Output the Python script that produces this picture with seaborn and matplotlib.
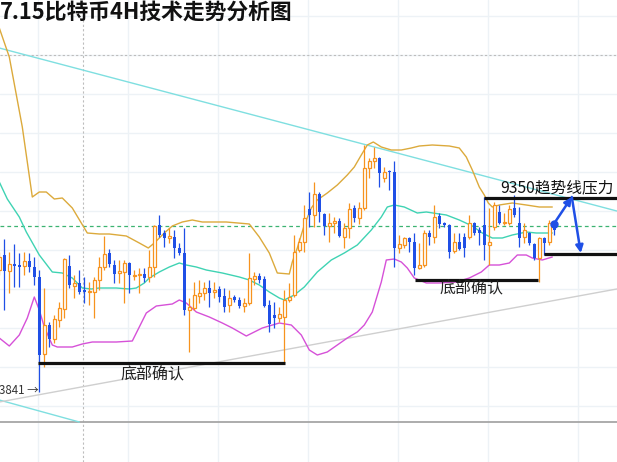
import numpy as np
import pandas as pd
import matplotlib
matplotlib.use("Agg")
import matplotlib.pyplot as plt
import seaborn as sns

# --- candle data (4H bars) ---
opens = [9000, 9075, 8995, 9030, 9025, 9020, 9045, 9015, 8965, 8580,
         8725, 8655, 8750, 8805, 9020, 8920, 8935, 8900, 8890, 8890,
         8950, 9015, 9085, 9025, 8985, 8990, 9035, 8970, 8975, 8980,
         8965, 9015, 9225, 9185, 9160, 9165, 9110, 9085, 8800, 8810,
         8870, 8885, 8910, 8890, 8905, 8870, 8825, 8865, 8850, 8820,
         8835, 8955, 8970, 8955, 8825, 8775, 8760, 8765, 8850, 8875,
         9100, 9140, 9305, 9275, 9380, 9280, 9220, 9235, 9245, 9165,
         9210, 9310, 9260, 9310, 9510, 9545, 9560, 9460, 9495, 9490,
         9110, 9125, 9160, 9140, 9010, 9025, 9185, 9165, 9270, 9235,
         9225, 9095, 9140, 9165, 9165, 9235, 9200, 9225, 9125, 9215,
         9290, 9235, 9235, 9310, 9235, 9165, 9185, 9130, 9060, 9160,
         9140, 9215]
highs = [9090, 9155, 9090, 9130, 9085, 9090, 9085, 9065, 9000, 8910,
         8740, 8775, 8840, 9060, 9075, 8975, 9000, 8965, 8940, 8965,
         9065, 9170, 9105, 9050, 9050, 9050, 9040, 9000, 9010, 9010,
         9100, 9225, 9275, 9200, 9210, 9200, 9135, 9210, 8860, 8940,
         8950, 8940, 8950, 8940, 8920, 8910, 8900, 8875, 8865, 8860,
         9085, 8990, 8985, 8970, 8850, 8840, 8815, 8900, 8935, 9175,
         9160, 9325, 9390, 9440, 9390, 9285, 9285, 9265, 9260, 9235,
         9335, 9325, 9340, 9625, 9560, 9615, 9565, 9515, 9500, 9545,
         9175, 9165, 9165, 9185, 9135, 9200, 9200, 9325, 9285, 9240,
         9230, 9185, 9185, 9185, 9275, 9240, 9215, 9365, 9310, 9340,
         9325, 9285, 9325, 9375, 9315, 9235, 9190, 9135, 9165, 9165,
         9250, 9235]
lows = [8975, 8800, 8885, 8915, 8915, 8975, 8990, 8925, 8390, 8515,
        8615, 8635, 8715, 8760, 8910, 8860, 8880, 8835, 8825, 8760,
        8900, 9000, 9015, 8935, 8935, 8835, 8885, 8950, 8885, 8940,
        8940, 8965, 9165, 9115, 9135, 9060, 9075, 8775, 8590, 8800,
        8835, 8850, 8815, 8860, 8840, 8790, 8790, 8840, 8810, 8790,
        8825, 8925, 8935, 8815, 8690, 8710, 8740, 8535, 8840, 8865,
        9090, 9090, 9215, 9215, 9240, 9175, 9140, 9185, 9165, 9110,
        9160, 9240, 9230, 9300, 9460, 9510, 9415, 9440, 9400, 9015,
        9085, 9110, 9090, 8975, 9005, 9015, 9125, 9135, 9210, 9215,
        9060, 9085, 9100, 9065, 9155, 9175, 9125, 9050, 9025, 9200,
        9230, 9225, 9225, 9265, 9115, 9135, 9125, 9050, 8940, 9075,
        9125, 9175]
closes = [9065, 8995, 9030, 9020, 9015, 9045, 9015, 8965, 8575, 8725,
          8655, 8755, 8810, 9055, 8925, 8935, 8890, 8890, 8895, 8950,
          9015, 9080, 9030, 8980, 8995, 9035, 8975, 8975, 8980, 8960,
          9015, 9220, 9175, 9160, 9170, 9110, 9085, 8800, 8815, 8875,
          8885, 8910, 8885, 8900, 8865, 8815, 8860, 8850, 8820, 8835,
          8960, 8970, 8950, 8820, 8730, 8760, 8780, 8850, 8865, 9090,
          9140, 9260, 9275, 9380, 9290, 9220, 9235, 9245, 9170, 9210,
          9305, 9260, 9310, 9510, 9545, 9560, 9485, 9490, 9490, 9110,
          9130, 9160, 9140, 9010, 9025, 9185, 9165, 9265, 9230, 9225,
          9090, 9140, 9105, 9110, 9235, 9185, 9185, 9125, 9140, 9325,
          9235, 9240, 9305, 9275, 9160, 9200, 9135, 9060, 9160, 9135,
          9235, 9200]

# --- bollinger bands, sampled along the curves (bar index, price) ---
upper_x = [0, 2, 4.6, 6.6, 8, 9.4, 11, 12.6, 14.6, 17.6, 20, 22, 25.4, 28, 29.8,
           31, 33, 34.6, 36.6, 38.6, 40.6, 45.4, 50, 52, 54, 55.6, 58, 58.6, 59.6,
           61, 62.4, 63.6, 65.6, 67.6, 69.6, 71, 72.4, 73.6, 74.8, 76.4, 78.4, 80.4,
           82.4, 84, 86.6, 90, 92, 93.4, 94.6, 96, 97, 97.8, 98.6, 100, 102.6,
           105.4, 108, 110.6]
upper_y = [10210, 10065, 9715, 9365, 9390, 9390, 9355, 9360, 9310, 9185, 9180, 9180,
           9170, 9135, 9110, 9135, 9185, 9220, 9240, 9250, 9240, 9240, 9230, 9165,
           9085, 8985, 8980, 9040, 9110, 9225, 9310, 9350, 9385, 9425, 9475, 9515,
           9575, 9625, 9640, 9615, 9600, 9600, 9610, 9620, 9625, 9620, 9610, 9565,
           9500, 9415, 9375, 9335, 9315, 9325, 9335, 9325, 9315, 9315]
mid_x = [0, 1.6, 4, 5.4, 8, 10.6, 12.6, 14.6, 16.6, 18.4, 20, 23.4, 26, 27.4, 29,
         30, 32, 34, 36, 37.4, 39.4, 41.4, 44.6, 48, 50, 52, 54, 56, 57, 59, 61,
         63.6, 66.4, 69, 71.6, 74.4, 76.4, 77.6, 79, 81, 83.6, 85.4, 89.4, 92,
         94.6, 96.6, 98.6, 100.6, 102.6, 105.4, 107.4, 109.4, 110.6]
mid_y = [9440, 9355, 9265, 9190, 9075, 8990, 8985, 8960, 8910, 8905, 8910, 8910,
         8905, 8910, 8935, 8960, 8990, 9015, 9035, 9025, 9015, 9000, 8985, 8965,
         8950, 8925, 8890, 8860, 8850, 8875, 8915, 8990, 9050, 9085, 9125, 9200,
         9265, 9315, 9325, 9315, 9285, 9290, 9275, 9250, 9220, 9185, 9160, 9160,
         9175, 9190, 9185, 9185, 9185]
lower_x = [0, 2, 4, 5.6, 7, 8, 9, 10.6, 11.6, 14.6, 16.6, 18.6, 23.4, 26.6, 28,
           29.4, 31.4, 33, 34.6, 36, 37.4, 39.4, 42, 44.6, 46.6, 49.4, 52.6, 56,
           58.4, 60.4, 62, 63.6, 65.6, 67.6, 69.6, 71.6, 73, 74.6, 76.4, 77.4, 79,
           80.4, 81.6, 83, 85.4, 88, 91.4, 94, 96.4, 98, 100, 102, 103.6, 105.4,
           106.6, 108.6, 110.6]
lower_y = [8660, 8620, 8675, 8760, 8865, 8800, 8715, 8625, 8615, 8615, 8630, 8640,
           8640, 8645, 8715, 8785, 8820, 8825, 8830, 8850, 8835, 8790, 8765, 8735,
           8710, 8670, 8710, 8735, 8725, 8675, 8600, 8575, 8590, 8625, 8660, 8690,
           8725, 8790, 8940, 9050, 9055, 9040, 9010, 8960, 8935, 8935, 8940, 8960,
           8990, 9025, 9025, 9035, 9075, 9075, 9060, 9050, 9065]

# --- drawn trendlines and levels ---
trend_down_x = [0, 123.5]
trend_down_y = [10110, 9295]
trend_low_x = [0, 16]
trend_low_y = [8350, 8240]
trend_up_x = [0, 123.5]
trend_up_y = [8340, 8905]
last_price = 9220
bottom_left = (7.7, 57.1, 8535)
bottom_right = (83.1, 107.8, 8950)
resist_level = (96.9, 123.5, 9360)
support_level = (108.9, 123.5, 9080)
arrow_path_x = [110.9, 114.5, 116.3]
arrow_path_y = [9230, 9365, 9085]
low_mark = 8395

title = "7.15比特币4H技术走势分析图"
resist_label = "9350趋势线压力"
bottom_label = "底部确认"

ORANGE = "#f7931e"
BLUE = "#1f4fe6"
CJK = ["Noto Sans CJK SC", "DejaVu Sans"]

sns.set_theme(style="white")
plt.rcParams["font.family"] = CJK

fig = plt.figure(figsize=(6.17, 4.62), dpi=100)
ax = fig.add_axes([0, 0, 1, 1])
ax.set_xlim(0.14, 123.54)
ax.set_ylim(8040, 10350)

# grid
ax.set_xticks([7.7, 25.7, 43.7, 61.7, 79.7, 97.7, 115.7])
ax.set_yticks([10270, 10075, 9880, 9685, 9490, 9295, 9100, 8905, 8710, 8515, 8320])
ax.grid(True, color="#edf2f6", lw=1.0)
ax.tick_params(left=False, bottom=False, labelleft=False, labelbottom=False)
for s in ax.spines.values():
    s.set_visible(False)

# crosshair + chart bottom
ax.axvline(16.7, color="#bdbdbd", lw=0.8, ls=(0, (2, 2)), zorder=1)
ax.axhline(10075, color="#bdbdbd", lw=0.8, ls=(0, (2, 2)), zorder=1)
ax.axhline(8240, color="#a6a6a6", lw=1.3, zorder=1)

# trendlines
ax.plot(trend_down_x, trend_down_y, color="#7fdfe0", lw=1.0, zorder=2)
ax.plot(trend_low_x, trend_low_y, color="#7fdfe0", lw=1.0, zorder=2)
ax.plot(trend_up_x, trend_up_y, color="#cfcfcf", lw=1.0, zorder=2)
ax.axhline(last_price, color="#3cb371", lw=0.9, ls=(0, (3, 2.5)), zorder=2)

# bands
sns.lineplot(x=upper_x, y=upper_y, ax=ax, color="#dcaa3c", lw=1.0, estimator=None, sort=False, zorder=2)
sns.lineplot(x=mid_x, y=mid_y, ax=ax, color="#3fd3b3", lw=1.0, estimator=None, sort=False, zorder=2)
sns.lineplot(x=lower_x, y=lower_y, ax=ax, color="#d651d8", lw=1.0, estimator=None, sort=False, zorder=2)

# --- candles ---
df = pd.DataFrame({"open": opens, "high": highs, "low": lows, "close": closes})
df["i"] = np.arange(len(df))
up = df[df["close"] >= df["open"]]
dn = df[df["close"] < df["open"]]

ax.vlines(up["i"], up["low"], up["high"], color=ORANGE, lw=0.9, zorder=3)
ax.vlines(dn["i"], dn["low"], dn["high"], color=BLUE, lw=0.9, zorder=3)
ax.bar(up["i"], np.maximum(up["close"] - up["open"], 6), bottom=up["open"], width=0.62,
       facecolor="white", edgecolor=ORANGE, linewidth=0.9, zorder=4)
ax.bar(dn["i"], np.maximum(dn["open"] - dn["close"], 6), bottom=dn["close"], width=0.62,
       color=BLUE, linewidth=0, zorder=4)

# --- annotations ---
for x0, x1, y in [bottom_left, bottom_right, resist_level, support_level]:
    ax.plot([x0, x1], [y, y], color="#111111", lw=2.3, solid_capstyle="butt", zorder=5)

ax.text(30.7, 8475, bottom_label, fontsize=11.5, ha="center", va="center", color="#222222", zorder=6)
ax.text(94.5, 8905, bottom_label, fontsize=11.5, ha="center", va="center", color="#222222", zorder=6)
ax.text(100.1, 9412, resist_label, fontsize=11.3, ha="left", va="center", color="#111111", zorder=6)
ax.text(0.0, low_mark, "3841 →", fontsize=8.3, ha="left", va="center", color="#333333", zorder=6)

ax.plot(arrow_path_x[0], arrow_path_y[0], "o", color=BLUE, ms=5, zorder=6)
for j in range(2):
    ax.annotate("", xy=(arrow_path_x[j + 1], arrow_path_y[j + 1]),
                xytext=(arrow_path_x[j], arrow_path_y[j]),
                arrowprops=dict(arrowstyle="-|>", color=BLUE, lw=1.8, mutation_scale=11,
                                shrinkA=0, shrinkB=0), zorder=6)

fig.text(0.0, 0.973, title, fontsize=15.7, fontweight="bold", ha="left", va="center", color="#111111")

fig.savefig("out.png", dpi=100)
